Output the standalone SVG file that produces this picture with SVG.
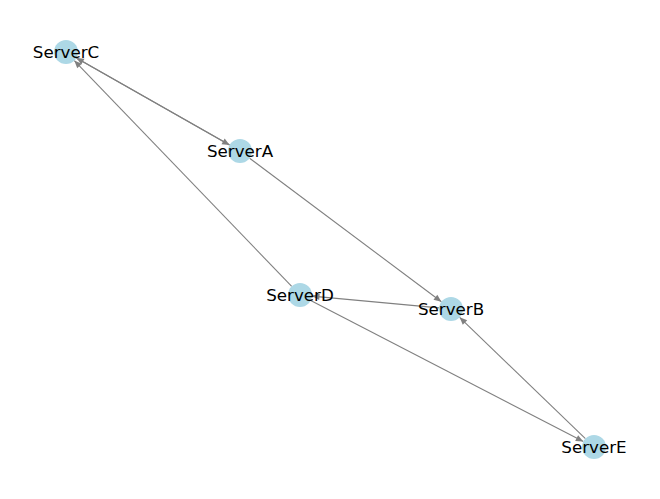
<svg xmlns="http://www.w3.org/2000/svg" width="660" height="499" viewBox="0 0 660 499">
<style>
.edge{stroke:#808080;stroke-width:1.1;fill:none;marker-end:url(#arr)}
.node circle{fill:#add8e6}
.node text{font-family:"DejaVu Sans",sans-serif;font-size:16.7px;fill:#000;text-anchor:middle;dominant-baseline:central}
</style>
<defs>
<marker id="arr" markerUnits="userSpaceOnUse" markerWidth="10" markerHeight="8" viewBox="0 -4 9 8" refX="7.5" refY="0" orient="auto">
<path d="M0,-3.2 L7.5,0 L0,3.2 Z" fill="#808080"/>
</marker>
</defs>
<rect width="660" height="499" fill="#fff"/>
<g id="edges">
<line class="edge" x1="76.4" y1="57.9" x2="229.6" y2="145.1"/>
<line class="edge" x1="229.6" y1="145.1" x2="76.4" y2="57.9"/>
<line class="edge" x1="291.7" y1="286.4" x2="74.3" y2="60.6"/>
<line class="edge" x1="249.6" y1="158.2" x2="441.4" y2="301.8"/>
<line class="edge" x1="439.0" y1="307.9" x2="312.0" y2="296.1"/>
<line class="edge" x1="310.7" y1="300.5" x2="583.3" y2="441.5"/>
<line class="edge" x1="585.4" y1="438.7" x2="459.6" y2="317.3"/>
</g>
<g id="ServerC" class="node"><circle cx="66" cy="52" r="12"/><text x="66" y="52">ServerC</text></g>
<g id="ServerA" class="node"><circle cx="240" cy="151" r="12"/><text x="240" y="151">ServerA</text></g>
<g id="ServerD" class="node"><circle cx="300" cy="295" r="12"/><text x="300" y="295">ServerD</text></g>
<g id="ServerB" class="node"><circle cx="451" cy="309" r="12"/><text x="451" y="309">ServerB</text></g>
<g id="ServerE" class="node"><circle cx="594" cy="447" r="12"/><text x="594" y="447">ServerE</text></g>
</svg>
